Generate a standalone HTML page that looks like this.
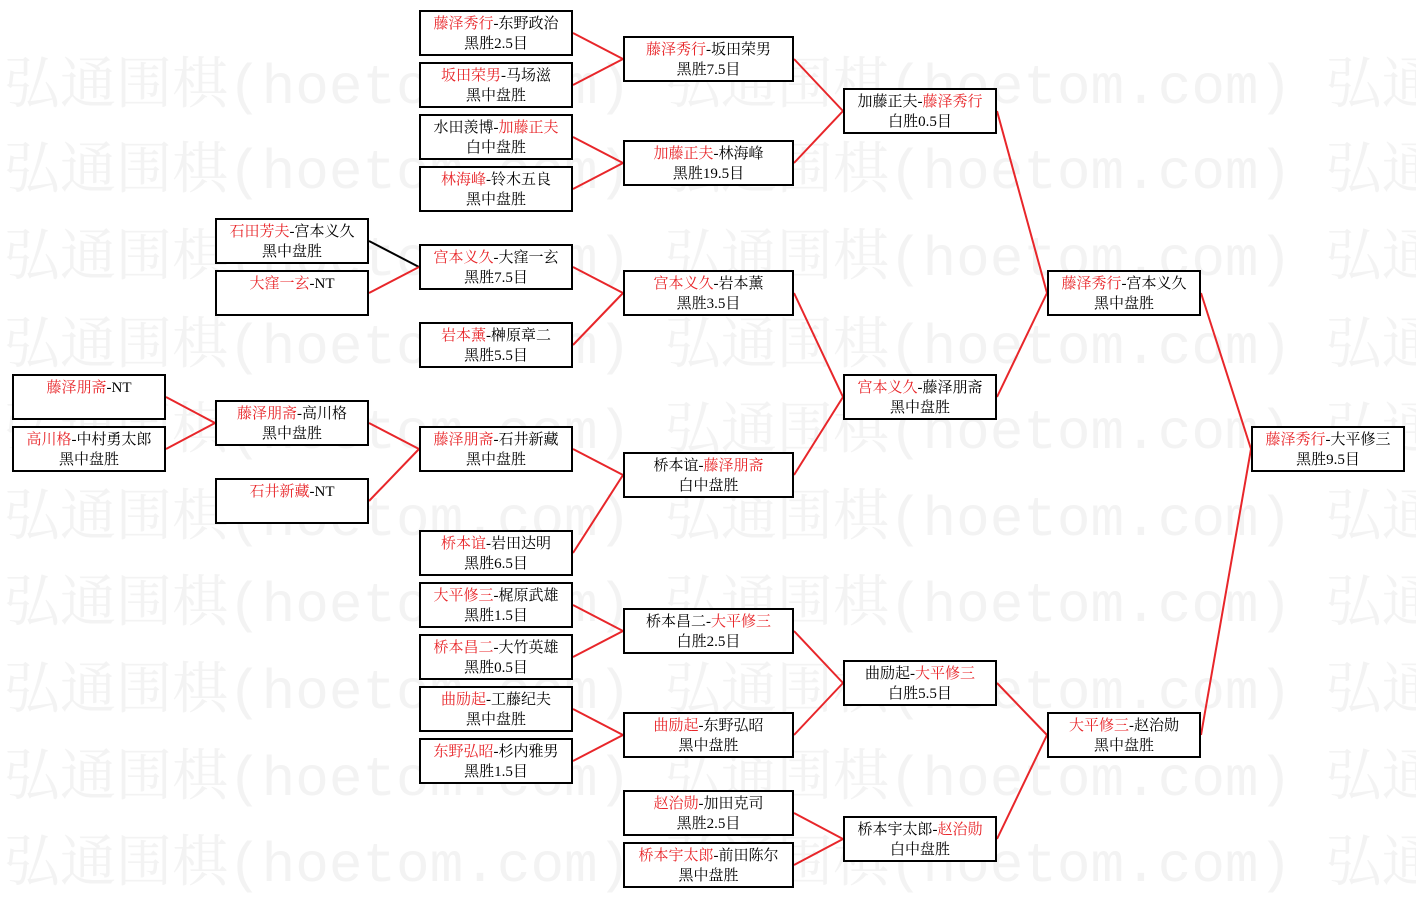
<!DOCTYPE html>
<html><head><meta charset="utf-8"><style>
body{margin:0;width:1416px;height:897px;background:#fff;position:relative;overflow:hidden;font-family:"Liberation Serif","Noto Serif CJK SC",serif;}
.wm{position:absolute;left:4px;font-size:56px;color:#f3f3f3;white-space:pre;font-family:"Liberation Mono","Noto Serif CJK SC",serif;}
.b{position:absolute;box-sizing:border-box;height:46px;border:2px solid #000;background:#fff;text-align:center;font-size:15px;line-height:20px;padding-top:2px;color:#000;white-space:nowrap;}
.r{color:#e8262a;}
svg{position:absolute;left:0;top:0;}
</style></head><body>
<div class="wm" style="top:40px">弘通围棋(hoetom.com) 弘通围棋(hoetom.com) 弘通</div>
<div class="wm" style="top:125px">弘通围棋(hoetom.com) 弘通围棋(hoetom.com) 弘通</div>
<div class="wm" style="top:212px">弘通围棋(hoetom.com) 弘通围棋(hoetom.com) 弘通</div>
<div class="wm" style="top:300px">弘通围棋(hoetom.com) 弘通围棋(hoetom.com) 弘通</div>
<div class="wm" style="top:385px">弘通围棋(hoetom.com) 弘通围棋(hoetom.com) 弘通</div>
<div class="wm" style="top:472px">弘通围棋(hoetom.com) 弘通围棋(hoetom.com) 弘通</div>
<div class="wm" style="top:558px">弘通围棋(hoetom.com) 弘通围棋(hoetom.com) 弘通</div>
<div class="wm" style="top:645px">弘通围棋(hoetom.com) 弘通围棋(hoetom.com) 弘通</div>
<div class="wm" style="top:732px">弘通围棋(hoetom.com) 弘通围棋(hoetom.com) 弘通</div>
<div class="wm" style="top:818px">弘通围棋(hoetom.com) 弘通围棋(hoetom.com) 弘通</div>
<svg width="1416" height="897" stroke-width="2" stroke="#e8262a">
<line x1="166" y1="397" x2="215" y2="423"/><line x1="166" y1="449" x2="215" y2="423"/>
<line x1="369" y1="241" x2="419" y2="267" stroke="#000"/><line x1="369" y1="293" x2="419" y2="267"/>
<line x1="369" y1="423" x2="419" y2="449"/><line x1="369" y1="501" x2="419" y2="449"/>
<line x1="573" y1="33" x2="623" y2="59"/><line x1="573" y1="85" x2="623" y2="59"/>
<line x1="573" y1="137" x2="623" y2="163"/><line x1="573" y1="189" x2="623" y2="163"/>
<line x1="573" y1="267" x2="623" y2="293"/><line x1="573" y1="345" x2="623" y2="293"/>
<line x1="573" y1="449" x2="623" y2="475"/><line x1="573" y1="553" x2="623" y2="475"/>
<line x1="573" y1="605" x2="623" y2="631"/><line x1="573" y1="657" x2="623" y2="631"/>
<line x1="573" y1="709" x2="623" y2="735"/><line x1="573" y1="761" x2="623" y2="735"/>
<line x1="794" y1="59" x2="843" y2="111"/><line x1="794" y1="163" x2="843" y2="111"/>
<line x1="794" y1="293" x2="843" y2="397"/><line x1="794" y1="475" x2="843" y2="397"/>
<line x1="794" y1="631" x2="843" y2="683"/><line x1="794" y1="735" x2="843" y2="683"/>
<line x1="794" y1="813" x2="843" y2="839"/><line x1="794" y1="865" x2="843" y2="839"/>
<line x1="997" y1="111" x2="1047" y2="293"/><line x1="997" y1="397" x2="1047" y2="293"/>
<line x1="997" y1="683" x2="1047" y2="735"/><line x1="997" y1="839" x2="1047" y2="735"/>
<line x1="1201" y1="293" x2="1251" y2="449"/><line x1="1201" y1="735" x2="1251" y2="449"/>
</svg>
<div class="b" style="left:12px;top:374px;width:154px"><span class="r">藤泽朋斋</span>-NT</div>
<div class="b" style="left:12px;top:426px;width:154px"><span class="r">高川格</span>-中村勇太郎<br>黑中盘胜</div>
<div class="b" style="left:215px;top:218px;width:154px"><span class="r">石田芳夫</span>-宫本义久<br>黑中盘胜</div>
<div class="b" style="left:215px;top:270px;width:154px"><span class="r">大窪一玄</span>-NT</div>
<div class="b" style="left:215px;top:400px;width:154px"><span class="r">藤泽朋斋</span>-高川格<br>黑中盘胜</div>
<div class="b" style="left:215px;top:478px;width:154px"><span class="r">石井新藏</span>-NT</div>
<div class="b" style="left:419px;top:10px;width:154px"><span class="r">藤泽秀行</span>-东野政治<br>黑胜2.5目</div>
<div class="b" style="left:419px;top:62px;width:154px"><span class="r">坂田荣男</span>-马场滋<br>黑中盘胜</div>
<div class="b" style="left:419px;top:114px;width:154px">水田羡博-<span class="r">加藤正夫</span><br>白中盘胜</div>
<div class="b" style="left:419px;top:166px;width:154px"><span class="r">林海峰</span>-铃木五良<br>黑中盘胜</div>
<div class="b" style="left:419px;top:244px;width:154px"><span class="r">宫本义久</span>-大窪一玄<br>黑胜7.5目</div>
<div class="b" style="left:419px;top:322px;width:154px"><span class="r">岩本薰</span>-榊原章二<br>黑胜5.5目</div>
<div class="b" style="left:419px;top:426px;width:154px"><span class="r">藤泽朋斋</span>-石井新藏<br>黑中盘胜</div>
<div class="b" style="left:419px;top:530px;width:154px"><span class="r">桥本谊</span>-岩田达明<br>黑胜6.5目</div>
<div class="b" style="left:419px;top:582px;width:154px"><span class="r">大平修三</span>-梶原武雄<br>黑胜1.5目</div>
<div class="b" style="left:419px;top:634px;width:154px"><span class="r">桥本昌二</span>-大竹英雄<br>黑胜0.5目</div>
<div class="b" style="left:419px;top:686px;width:154px"><span class="r">曲励起</span>-工藤纪夫<br>黑中盘胜</div>
<div class="b" style="left:419px;top:738px;width:154px"><span class="r">东野弘昭</span>-杉内雅男<br>黑胜1.5目</div>
<div class="b" style="left:623px;top:36px;width:171px"><span class="r">藤泽秀行</span>-坂田荣男<br>黑胜7.5目</div>
<div class="b" style="left:623px;top:140px;width:171px"><span class="r">加藤正夫</span>-林海峰<br>黑胜19.5目</div>
<div class="b" style="left:623px;top:270px;width:171px"><span class="r">宫本义久</span>-岩本薰<br>黑胜3.5目</div>
<div class="b" style="left:623px;top:452px;width:171px">桥本谊-<span class="r">藤泽朋斋</span><br>白中盘胜</div>
<div class="b" style="left:623px;top:608px;width:171px">桥本昌二-<span class="r">大平修三</span><br>白胜2.5目</div>
<div class="b" style="left:623px;top:712px;width:171px"><span class="r">曲励起</span>-东野弘昭<br>黑中盘胜</div>
<div class="b" style="left:623px;top:790px;width:171px"><span class="r">赵治勋</span>-加田克司<br>黑胜2.5目</div>
<div class="b" style="left:623px;top:842px;width:171px"><span class="r">桥本宇太郎</span>-前田陈尔<br>黑中盘胜</div>
<div class="b" style="left:843px;top:88px;width:154px">加藤正夫-<span class="r">藤泽秀行</span><br>白胜0.5目</div>
<div class="b" style="left:843px;top:374px;width:154px"><span class="r">宫本义久</span>-藤泽朋斋<br>黑中盘胜</div>
<div class="b" style="left:843px;top:660px;width:154px">曲励起-<span class="r">大平修三</span><br>白胜5.5目</div>
<div class="b" style="left:843px;top:816px;width:154px">桥本宇太郎-<span class="r">赵治勋</span><br>白中盘胜</div>
<div class="b" style="left:1047px;top:270px;width:154px"><span class="r">藤泽秀行</span>-宫本义久<br>黑中盘胜</div>
<div class="b" style="left:1047px;top:712px;width:154px"><span class="r">大平修三</span>-赵治勋<br>黑中盘胜</div>
<div class="b" style="left:1251px;top:426px;width:154px"><span class="r">藤泽秀行</span>-大平修三<br>黑胜9.5目</div>
</body></html>
